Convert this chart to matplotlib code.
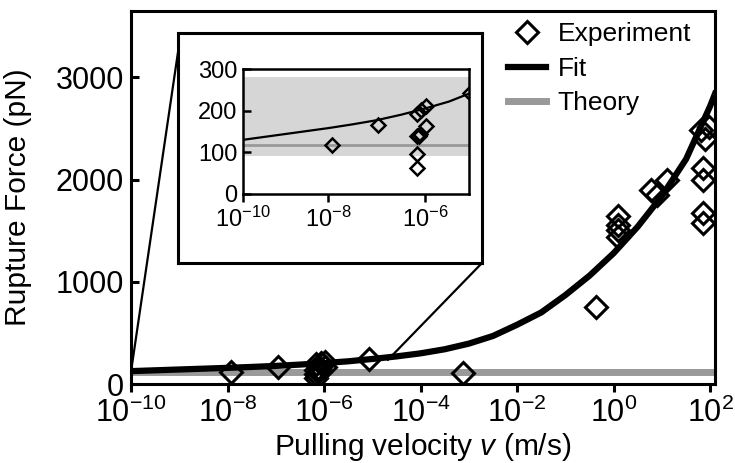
import matplotlib
matplotlib.use('Agg')
import matplotlib.pyplot as plt
from matplotlib.patches import ConnectionPatch
from matplotlib.ticker import NullLocator, FixedLocator

plt.rcParams['font.family'] = ['Liberation Sans', 'DejaVu Sans']
plt.rcParams['mathtext.fontset'] = 'custom'
plt.rcParams['mathtext.rm'] = 'Liberation Sans'
plt.rcParams['mathtext.it'] = 'Liberation Sans:italic'
plt.rcParams['mathtext.default'] = 'regular'

# данные эксперимента (скорость, м/с; сила разрыва, пН)
exp_v = [1.2e-8, 1.1e-7, 6.8e-7, 6.8e-7, 6.8e-7, 6.8e-7, 7.5e-7, 8.0e-7, 8.5e-7,
         1.05e-6, 1.05e-6, 8.5e-6, 7.6e-4, 0.43, 1.26, 1.26, 1.26, 1.26,
         5.9, 8.1, 13, 65, 80, 93, 71, 71, 71, 71]
exp_F = [118, 165, 192, 139, 96, 62, 140, 145, 201,
         211, 163, 243, 108, 753, 1640, 1560, 1510, 1440,
         1896, 1848, 2000, 2483, 2395, 2512, 2111, 1994, 1672, 1574]

fit_logv = [-10, -9.5, -9, -8.5, -8, -7.5, -7, -6.5, -6, -5.5, -5, -4.5, -4,
            -3.5, -3, -2.5, -2, -1.5, -1, -0.5, 0, 0.5, 1, 1.5, 2, 2.1]
fit_F = [126, 134, 142, 150, 158, 167, 177, 190, 205, 222, 245, 270, 300,
         340, 395, 470, 580, 700, 870, 1060, 1280, 1540, 1840, 2200, 2720, 2840]
fit_v = [10 ** p for p in fit_logv]

# теория
theory_v = [1e-10, 10**2.1]
theory_F = [118, 118]
band_low, band_high = 92, 281

fig = plt.figure(figsize=(7.35, 4.63), dpi=100)
W, H = 735, 463

ax = fig.add_axes([131 / W, 1 - 384 / H, 584 / W, 373 / H])
ax.plot(theory_v, theory_F, color='#999999', lw=5, label='Theory', zorder=2)
ax.plot(fit_v, fit_F, color='black', lw=4.5, label='Fit', zorder=3,
        solid_joinstyle='round')
ax.plot(exp_v, exp_F, ls='none', marker='D', ms=11, mfc='none', mec='black',
        mew=2.2, label='Experiment', zorder=4)
ax.set_xscale('log')
ax.set_xlim(1e-10, 10**2.1)
ax.set_ylim(0, 3650)
ax.xaxis.set_major_locator(FixedLocator([1e-10, 1e-8, 1e-6, 1e-4, 1e-2, 1e0, 1e2]))
ax.xaxis.set_minor_locator(NullLocator())
ax.set_yticks([0, 1000, 2000, 3000])
for s in ax.spines.values():
    s.set_linewidth(2.2)
ax.tick_params(axis='x', direction='out', length=6, width=2.2, labelsize=22, pad=4)
ax.tick_params(axis='y', direction='in', length=6, width=2.2, labelsize=22, pad=5)
ax.set_xlabel('Pulling velocity $\\mathit{v}$ (m/s)', fontsize=21.5, labelpad=1)
ax.set_ylabel('Rupture Force (pN)', fontsize=21.5, labelpad=17)

h, l = ax.get_legend_handles_labels()
order = [2, 1, 0]
ax.legend([h[i] for i in order], [l[i] for i in order], loc='upper right',
          frameon=False, fontsize=19, handlelength=1.45, handletextpad=0.45,
          labelspacing=0.4, borderaxespad=0.1, bbox_to_anchor=(0.982, 1.005))

# рамка вставки
box = fig.add_axes([178 / W, 1 - 263 / H, 304 / W, 230 / H], zorder=5)
box.set_xticks([])
box.set_yticks([])
box.set_facecolor('white')
for s in box.spines.values():
    s.set_linewidth(2.2)

# вставка
ins = fig.add_axes([243 / W, 1 - 194 / H, 226 / W, 125 / H], zorder=6)
ins.axhspan(band_low, band_high, color='#d6d6d6', lw=0, zorder=0)
ins.plot(theory_v, theory_F, color='#999999', lw=2, zorder=1)
ins.plot(fit_v, fit_F, color='black', lw=1.6, zorder=2)
ins.plot(exp_v, exp_F, ls='none', marker='D', ms=7.5, mfc='none', mec='black',
         mew=1.8, zorder=3)
ins.set_xscale('log')
ins.set_xlim(10**-9.75, 10**-5.09)
ins.set_ylim(0, 300)
ins.xaxis.set_major_locator(FixedLocator([10**-9.75, 1e-8, 1e-6]))
ins.xaxis.set_minor_locator(NullLocator())
ins.set_xticklabels(['$10^{-10}$', '$10^{-8}$', '$10^{-6}$'])
ins.set_yticks([0, 100, 200, 300])
for s in ins.spines.values():
    s.set_linewidth(1.8)
ins.tick_params(axis='x', direction='out', length=6, width=1.8, labelsize=17, pad=3)
ins.tick_params(axis='y', direction='in', length=6, width=1.8, labelsize=17, pad=4)

# линии от вставки к основному графику
c1 = ConnectionPatch(xyA=(1e-10, 120), coordsA=ax.transData,
                     xyB=(0, 0.917), coordsB=box.transAxes, lw=1.6, color='black')
c2 = ConnectionPatch(xyA=(10**-4.68, 235), coordsA=ax.transData,
                     xyB=(1, 0), coordsB=box.transAxes, lw=1.6, color='black')
fig.add_artist(c1)
fig.add_artist(c2)

fig.savefig('out.png', dpi=100)
